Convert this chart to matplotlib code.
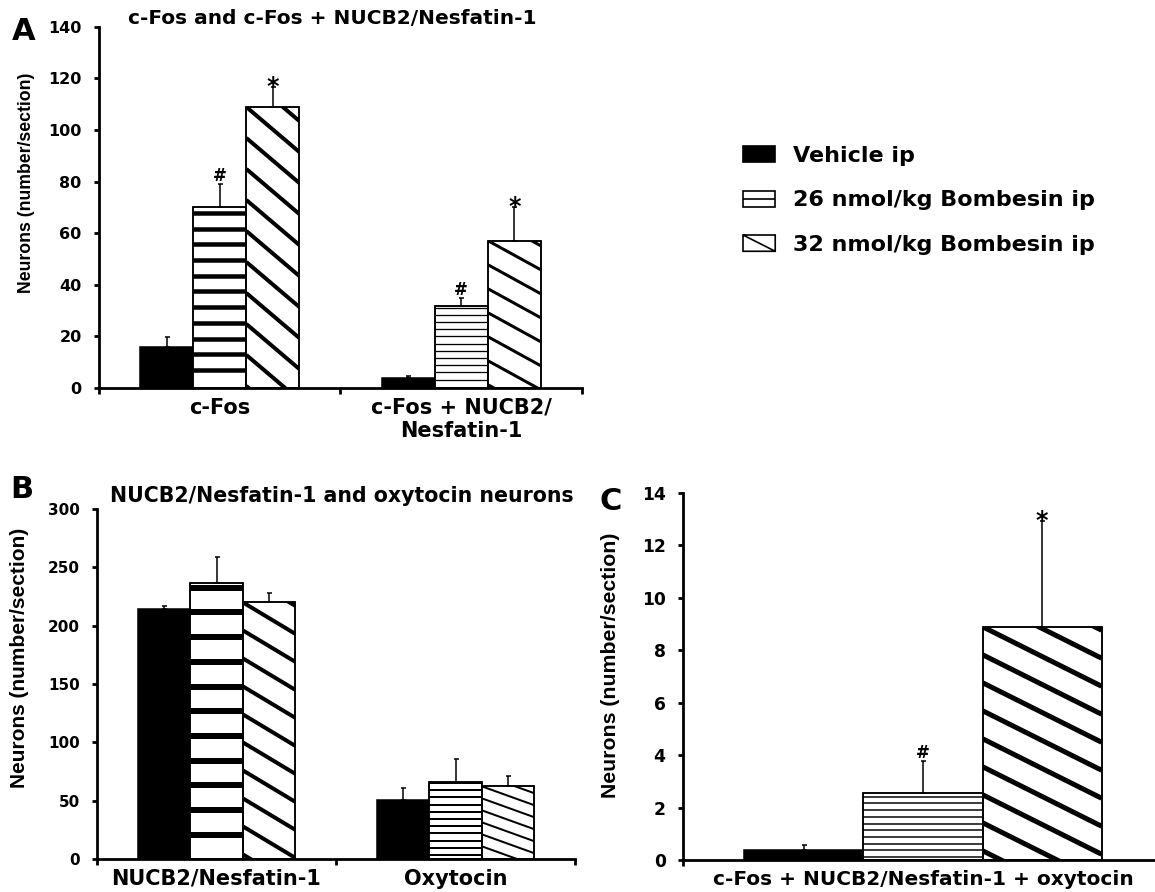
import numpy as np
import matplotlib
matplotlib.use('Agg')
import matplotlib.pyplot as plt
from matplotlib.patches import Patch, PathPatch
from matplotlib.path import Path
from matplotlib.collections import LineCollection
from matplotlib.legend_handler import HandlerPatch

plt.rcParams['font.family'] = ['DejaVu Sans']
plt.rcParams['font.weight'] = 'bold'

# ---- data -------------------------------------------------------------
cats_a = ['c-Fos', 'c-Fos + NUCB2/\nNesfatin-1']
veh_a = [15.8, 4.0]
veh_a_err = [4.1, 0.6]
b26_a = [70.0, 31.8]
b26_a_err = [9.2, 3.2]
b32_a = [108.9, 57.1]
b32_a_err = [7.8, 12.9]
sig26_a = ['#', '#']
sig32_a = ['*', '*']

cats_b = ['NUCB2/Nesfatin-1', 'Oxytocin']
veh_b = [214.6, 50.9]
veh_b_err = [2.6, 10.0]
b26_b = [237.0, 66.0]
b26_b_err = [21.6, 19.7]
b32_b = [220.0, 62.3]
b32_b_err = [7.7, 8.6]

cats_c = ['c-Fos + NUCB2/Nesfatin-1 + oxytocin']
veh_c = [0.4]
veh_c_err = [0.17]
b26_c = [2.56]
b26_c_err = [1.23]
b32_c = [8.9]
b32_c_err = [4.03]
sig26_c = ['#']
sig32_c = ['*']

legend_labels = ['Vehicle ip', '26 nmol/kg Bombesin ip', '32 nmol/kg Bombesin ip']

# stripe fill per bar: (slope, gap px, line width px, phase px)
stripes_a26 = [(0, 15.7, 4.5, 18), (0, 7.2, 1.3, 8.3)]
stripes_a32 = [(0.85, 31, 4, 0), (0.55, 24, 3, 0)]
stripes_b26 = [(0, 24.7, 6, 24.3), (0, 7.2, 2, 4)]
stripes_b32 = [(0.6, 28, 4, 0), (0.36, 12, 2, 0)]
stripes_c26 = [(0, 6.7, 1.5, 3)]
stripes_c32 = [(0.5, 28, 5, 0)]

W, H = 1155, 892
fig = plt.figure(figsize=(W / 100, H / 100), dpi=100)


def box(left, top, right, bottom):
    return [left / W, 1 - bottom / H, (right - left) / W, (bottom - top) / H]


def stripe(ax, bar, slope, gap, lw, phase):
    x0, y0 = ax.transData.transform((bar.get_x(), bar.get_y()))
    x1, y1 = ax.transData.transform((bar.get_x() + bar.get_width(),
                                     bar.get_y() + bar.get_height()))
    if slope == 0:
        segs = [[(x0, y), (x1, y)] for y in np.arange(y0 + phase, y1 + gap, gap)]
    else:
        drop = slope * (x1 - x0)
        ks = np.arange(np.floor((y0 - y1) / gap) - 1, np.ceil(drop / gap) + 2)
        segs = [[(x0, c), (x1, c - drop)] for c in y1 - phase + ks * gap]
    inv = ax.transData.inverted()
    segs = [inv.transform(s) for s in segs]
    lc = LineCollection(segs, colors='black', linewidths=lw * 0.72,
                        capstyle='butt', zorder=2.5)
    ax.add_collection(lc)
    lc.set_clip_path(bar)


def panel(ax, cats, series, errs, fills, marks, width, ylim, yticks,
          tick_size, xlab_size):
    n = len(cats)
    centers = np.arange(n)
    ax.set_xlim(-0.5, n - 0.5)
    ax.set_ylim(*ylim)
    offsets = [-width, 0, width]
    for k, (vals, err) in enumerate(zip(series, errs)):
        xs = centers + offsets[k]
        face = 'black' if k == 0 else 'white'
        bars = ax.bar(xs, vals, width, color=face, edgecolor='black',
                      linewidth=1.1, zorder=2)
        if fills[k] is not None:
            for bar, spec in zip(bars, fills[k]):
                stripe(ax, bar, *spec)
            ax.bar(xs, vals, width, facecolor='none', edgecolor='black',
                   linewidth=1.1, zorder=3)
        ax.errorbar(xs, vals, yerr=[np.zeros(n), err], fmt='none',
                    ecolor='black', elinewidth=1.1, capsize=1.8,
                    capthick=1.1, zorder=4)
        if marks[k] is not None:
            for x, v, e, m in zip(xs, vals, err, marks[k]):
                star = m == '*'
                ax.annotate(m, (x, v + e), xytext=(0, -5 if star else 2),
                            textcoords='offset points', ha='center',
                            va='baseline', fontsize=17 if star else 12,
                            fontweight='bold')
    for s in ['top', 'right']:
        ax.spines[s].set_visible(False)
    for s in ['left', 'bottom']:
        ax.spines[s].set_linewidth(2.0)
    ax.set_yticks(yticks)
    ax.set_xticks(centers)
    ax.set_xticklabels(cats, fontsize=xlab_size, fontweight='bold')
    ax.set_xticks(np.arange(n + 1) - 0.5, minor=True)
    ax.tick_params(axis='y', direction='out', length=3.5, width=2.0,
                   pad=9, labelsize=tick_size)
    ax.tick_params(axis='x', which='major', length=0, pad=7)
    ax.tick_params(axis='x', which='minor', direction='out', length=4,
                   width=2.0)
    for t in ax.get_xticklabels():
        t.set_linespacing(1.2)
    ax.set_facecolor('none')


# ---- panel A ----------------------------------------------------------
ax_a = fig.add_axes(box(99, 26.7, 582, 388))
panel(ax_a, cats_a, [veh_a, b26_a, b32_a], [veh_a_err, b26_a_err, b32_a_err],
      [None, stripes_a26, stripes_a32], [None, sig26_a, sig32_a],
      0.22, (0, 140), np.arange(0, 141, 20), 11.5, 15)

# ---- panel B ----------------------------------------------------------
ax_b = fig.add_axes(box(97, 509, 575, 859))
panel(ax_b, cats_b, [veh_b, b26_b, b32_b], [veh_b_err, b26_b_err, b32_b_err],
      [None, stripes_b26, stripes_b32], [None, None, None],
      0.22, (0, 300), np.arange(0, 301, 50), 11, 15)

# ---- panel C ----------------------------------------------------------
ax_c = fig.add_axes(box(683, 493, 1163, 860))
panel(ax_c, cats_c, [veh_c, b26_c, b32_c], [veh_c_err, b26_c_err, b32_c_err],
      [None, stripes_c26, stripes_c32], [None, sig26_c, sig32_c],
      0.248, (0, 14), np.arange(0, 15, 2), 12.3, 14.5)

# ---- labels -----------------------------------------------------------
ylab = 'Neurons (number/section)'
yfont = ['Liberation Sans', 'DejaVu Sans']
fig.text(26.5 / W, 1 - 182.5 / H, ylab, rotation=90, ha='center',
         va='center', fontsize=12.7, fontweight='bold', family=yfont)
fig.text(20 / W, 1 - 658 / H, ylab, rotation=90, ha='center',
         va='center', fontsize=15, fontweight='bold', family=yfont)
fig.text(610 / W, 1 - 665 / H, ylab, rotation=90, ha='center',
         va='center', fontsize=15.3, fontweight='bold', family=yfont)

fig.text(128 / W, 1 - 19 / H, 'c-Fos and c-Fos + NUCB2/Nesfatin-1',
         ha='left', va='center', fontsize=14.5, fontweight='bold')
fig.text(110 / W, 1 - 496 / H, 'NUCB2/Nesfatin-1 and oxytocin neurons',
         ha='left', va='center', fontsize=14.8, fontweight='bold')

for letter, x, y in [('A', 24, 32), ('B', 22, 490), ('C', 611, 502)]:
    fig.text(x / W, 1 - y / H, letter, ha='center', va='center',
             fontsize=22, fontweight='bold')


# ---- legend -----------------------------------------------------------
def swatch(kind):
    def make(legend, orig_handle, xdescent, ydescent, width, height, fontsize):
        x0, y0 = -xdescent, -ydescent
        x1, y1 = x0 + width, y0 + height
        verts = [(x0, y0), (x1, y0), (x1, y1), (x0, y1), (x0, y0)]
        codes = [Path.MOVETO, Path.LINETO, Path.LINETO, Path.LINETO,
                 Path.CLOSEPOLY]
        if kind == 'h':
            verts += [(x0, (y0 + y1) / 2), (x1, (y0 + y1) / 2)]
            codes += [Path.MOVETO, Path.LINETO]
        elif kind == 'd':
            verts += [(x0, y1), (x1, y0)]
            codes += [Path.MOVETO, Path.LINETO]
        return PathPatch(Path(verts, codes))
    return HandlerPatch(patch_func=make)


handles = [Patch(facecolor='black', edgecolor='black', linewidth=1.2),
           Patch(facecolor='white', edgecolor='black', linewidth=1.2),
           Patch(facecolor='white', edgecolor='black', linewidth=1.2)]
fig.legend(handles, legend_labels, loc='upper left',
           bbox_to_anchor=(743 / W, 1 - 146 / H), frameon=False,
           borderaxespad=0, borderpad=0, handlelength=1.45,
           handleheight=0.75, handletextpad=0.8, labelspacing=1.1,
           prop={'size': 16, 'weight': 'bold'},
           handler_map={handles[0]: swatch('s'), handles[1]: swatch('h'),
                        handles[2]: swatch('d')})

fig.savefig('out.png', dpi=100)
